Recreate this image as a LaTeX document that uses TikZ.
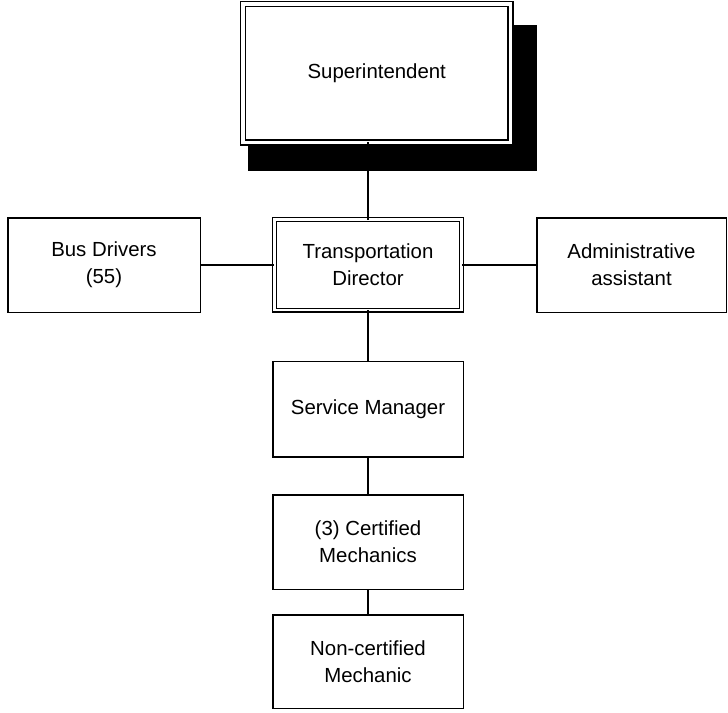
\documentclass[tikz,border=0pt]{standalone}
\usepackage{fontspec}
\setmainfont{Liberation Sans}
\begin{document}
\begin{tikzpicture}[x=1pt,y=-1pt,
  every node/.style={font=\fontsize{20.4}{26.7}\selectfont, align=center, inner sep=0pt, outer sep=0pt},
  unit/.style={draw, line width=1.5pt, fill=white},
  lead/.style={draw, line width=1.3pt, double, double distance=3.6pt, fill=white},
  link/.style={line width=1.5pt}]
\useasboundingbox (0,0) rectangle (728,712);

% drop shadow behind the top box
\fill[black] (247.5,24.5) rectangle (537,170.5);

\node[lead, minimum width=267.3pt, minimum height=138.3pt] (sup) at (376.75,73.25) {Superintendent};
\node[lead, line width=1.2pt, double distance=2.6pt, minimum width=187.5pt, minimum height=90.5pt] (td) at (368,264.75) {Transportation\\Director};
\node[unit, minimum width=192.5pt, minimum height=94.5pt] (bus) at (104,265) {Bus Drivers\\(55)};
\node[unit, minimum width=189.5pt, minimum height=94.5pt] (adm) at (631.5,265) {Administrative\\assistant};
\node[unit, minimum width=190.5pt, minimum height=95.5pt] (svc) at (368,409) {Service Manager};
\node[unit, minimum width=190.5pt, minimum height=94.5pt] (cert) at (368,542) {(3) Certified\\Mechanics};
\node[unit, minimum width=190.5pt, minimum height=93.5pt] (nonc) at (368,661.5) {Non-certified\\Mechanic};

% reporting lines
\draw[link] (td.north) -- (td.north |- sup.south);
\draw[link] (bus.east) -- (bus.east -| td.west);
\draw[link] (td.east) -- (td.east -| adm.west);
\draw[link] (td.south) -- (td.south |- svc.north);
\draw[link] (svc.south) -- (svc.south |- cert.north);
\draw[link] (cert.south) -- (cert.south |- nonc.north);
\end{tikzpicture}
\end{document}
